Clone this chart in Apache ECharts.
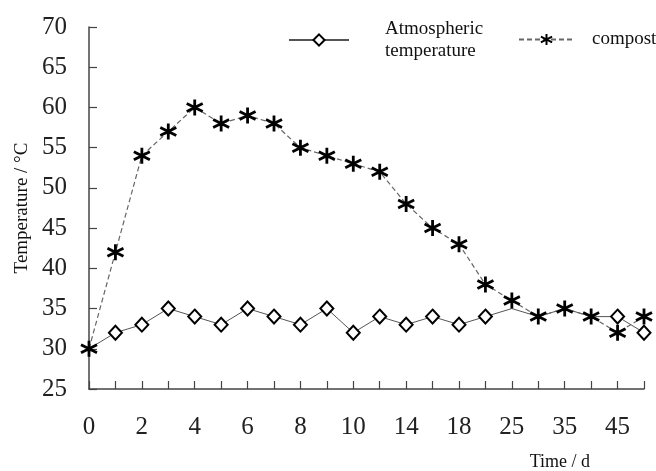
<!DOCTYPE html>
<html>
<head>
<meta charset="utf-8">
<script src="https://cdn.jsdelivr.net/npm/echarts@6/dist/echarts.min.js"></script>
<style>
  html, body { margin: 0; padding: 0; background: #fff; }
  #main { width: 656px; height: 471px; }
</style>
</head>
<body>
<div id="main"></div>
<script>
// 天数（类目轴）
const days = ["0", "1", "2", "3", "4", "5", "6", "7", "8", "9", "10", "12", "14", "16", "18", "20", "25", "30", "35", "40", "45", "50"];
// 大气温度
const atmosphere = [30, 32, 33, 35, 34, 33, 35, 34, 33, 35, 32, 34, 33, 34, 33, 34, 35, 34, 35, 34, 34, 32];
// 堆肥温度
const compost = [30, 42, 54, 57, 60, 58, 59, 58, 55, 54, 53, 52, 48, 45, 43, 38, 36, 34, 35, 34, 32, 34];

const serif = "Liberation Serif";
// 星号标记
const starPath = "path://M10 0 L10 20 M1.34 5 L18.66 15 M1.34 15 L18.66 5";

// 与堆肥点重合的菱形被星号遮住
let atmData = atmosphere.map(function (v, i) {
  if (Math.abs(v - compost[i]) < 1.5) {
    return { value: v, symbol: "none" };
  }
  return v;
});

let myChart = echarts.init(document.getElementById("main"));
let option = {
  animation: false,
  backgroundColor: "#fff",
  grid: {
    left: 89,
    right: 12,
    top: 27,
    bottom: 82
  },
  legend: [{
    data: ["Atmospheric temperature"],
    left: 283,
    top: 13,
    itemWidth: 60,
    itemHeight: 14,
    formatter: function () { return "Atmospheric\ntemperature"; },
    textStyle: {
      fontFamily: serif,
      fontSize: 19,
      color: "#111",
      lineHeight: 22,
      padding: [0, 0, 0, 31]
    }
  }, {
    data: ["compost"],
    left: 513,
    top: 25,
    itemWidth: 55,
    itemHeight: 14,
    textStyle: {
      fontFamily: serif,
      fontSize: 19,
      color: "#111",
      padding: [0, 0, 0, 13]
    }
  }],
  xAxis: {
    type: "category",
    data: days,
    boundaryGap: false,
    name: "Time / d",
    nameLocation: "end",
    nameGap: -54,
    nameTextStyle: {
      fontFamily: serif,
      fontSize: 18,
      color: "#111",
      align: "right",
      verticalAlign: "top",
      padding: [64, 0, 0, 0]
    },
    axisLine: { lineStyle: { color: "#444", width: 1.5 } },
    axisTick: { show: true, inside: true, length: 8, interval: 0, lineStyle: { color: "#444", width: 1.2 } },
    axisLabel: {
      interval: 1,
      margin: 26,
      fontFamily: serif,
      fontSize: 25,
      color: "#222"
    },
    splitLine: { show: false }
  },
  yAxis: {
    type: "value",
    min: 25,
    max: 70,
    interval: 5,
    name: "Temperature / °C",
    nameLocation: "middle",
    nameGap: 57,
    nameTextStyle: {
      fontFamily: serif,
      fontSize: 19,
      color: "#111"
    },
    axisLine: { show: true, lineStyle: { color: "#444", width: 1.5 } },
    axisTick: { show: true, inside: true, length: 8, lineStyle: { color: "#444", width: 1.2 } },
    axisLabel: {
      margin: 22,
      fontFamily: serif,
      fontSize: 25,
      color: "#222"
    },
    splitLine: { show: false }
  },
  series: [{
    name: "Atmospheric temperature",
    type: "line",
    data: atmData,
    symbol: "diamond",
    symbolSize: [13, 14],
    showAllSymbol: true,
    lineStyle: { color: "#555", width: 1 },
    itemStyle: { color: "#fff", borderColor: "#000", borderWidth: 2 },
    z: 2
  }, {
    name: "compost",
    type: "line",
    data: compost,
    symbol: starPath,
    symbolSize: [16, 16],
    showAllSymbol: true,
    lineStyle: { color: "#666", width: 1.2, type: [5, 3] },
    itemStyle: { color: "#000", borderColor: "#000", borderWidth: 2.8 },
    z: 3
  }]
};
myChart.setOption(option);
</script>
</body>
</html>
